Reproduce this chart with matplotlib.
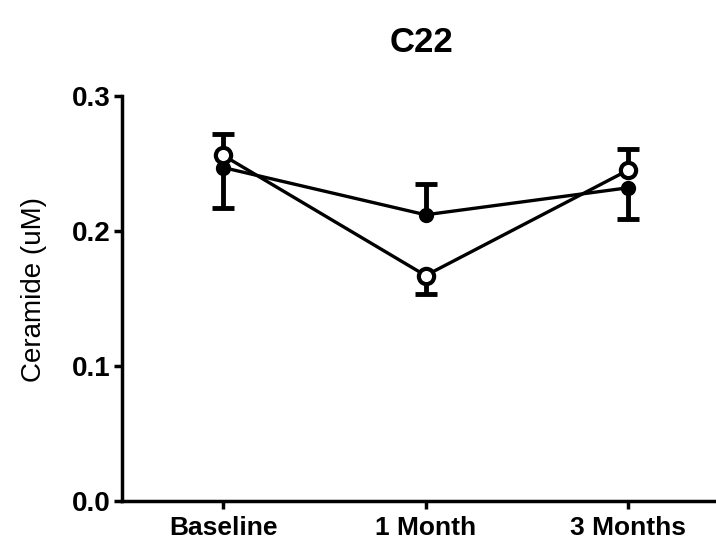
import matplotlib
matplotlib.use("Agg")
import matplotlib.pyplot as plt

categories = ["Baseline", "1 Month", "3 Months"]
filled_vals = [0.247, 0.212, 0.232]
filled_err = [0.030, 0.023, 0.023]
filled_dir = [-1, 1, -1]
open_vals = [0.256, 0.167, 0.245]
open_err = [0.016, 0.014, 0.016]
open_dir = [1, -1, 1]
yticks = [0.0, 0.1, 0.2, 0.3]

plt.rcParams['font.family'] = ['Liberation Sans', 'DejaVu Sans']

fig = plt.figure(figsize=(7.16, 5.45), dpi=100)
ax = fig.add_axes([0.1704, 0.0807, 0.848, 0.7432])
x = list(range(len(categories)))

def draw(vals, errs, dirs, face, ms, z):
    ends = [v + d * e for v, e, d in zip(vals, errs, dirs)]
    ax.vlines(x, vals, ends, color='black', lw=3.5, zorder=z)
    ax.plot(x, ends, linestyle='none', marker='_', markersize=16,
            markeredgewidth=3.5, color='black', zorder=z)
    ax.plot(x, vals, color='black', lw=2.4, marker='o', markersize=ms,
            markerfacecolor=face, markeredgecolor='black', markeredgewidth=3,
            zorder=z + 1)

draw(filled_vals, filled_err, filled_dir, 'black', 8, 2)
draw(open_vals, open_err, open_dir, 'white', 11, 4)

ax.set_xlim(-0.5, 2.5)
ax.set_ylim(0, 0.3)
ax.set_yticks(yticks)
ax.set_yticklabels([f"{t:.1f}" for t in yticks], fontsize=20, fontweight='bold')
ax.set_xticks(x)
ax.set_xticklabels(categories, fontsize=19, fontweight='bold')
ax.spines['top'].set_visible(False)
ax.spines['right'].set_visible(False)
for s in ['left', 'bottom']:
    ax.spines[s].set_linewidth(2.5)
ax.tick_params(axis='both', width=2.5, length=6, direction='out')
ax.tick_params(axis='y', pad=2)
ax.tick_params(axis='x', pad=5)
ax.set_ylabel("Ceramide (uM)", fontsize=20)
ax.yaxis.set_label_coords(-0.123, 0.523)
fig.text(0.588, 0.922, "C22", fontsize=25, fontweight='bold', ha='center', va='center')

fig.savefig("out.png", dpi=100)
